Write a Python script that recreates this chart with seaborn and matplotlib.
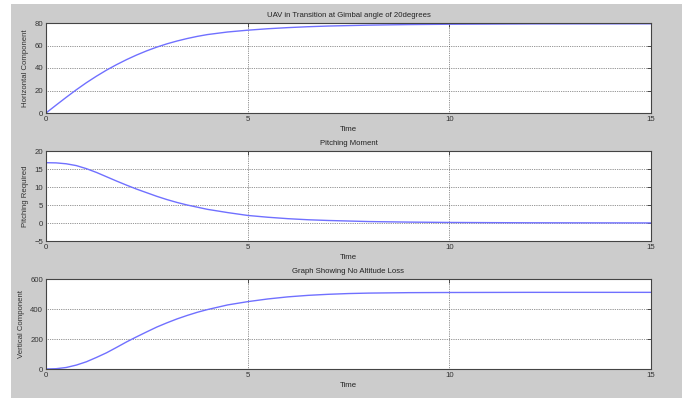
import matplotlib
matplotlib.use("Agg")
import matplotlib.pyplot as plt
import seaborn as sns
import pandas as pd
from matplotlib.patches import Rectangle

# Sampled simulation output (time in seconds)
t_horiz = [0, 0.25, 0.5, 0.75, 1, 1.25, 1.5, 1.75, 2, 2.25, 2.5, 2.75, 3, 3.25, 3.5, 3.75,
           4, 4.5, 5, 5.5, 6, 6.5, 7, 8, 9, 10, 12, 15]
horizontal = [0, 7.0, 13.9, 20.6, 26.9, 32.7, 38.1, 43.0, 47.5, 51.6, 55.3, 58.6, 61.5,
              64.0, 66.2, 68.1, 69.7, 72.0, 73.6, 74.9, 75.9, 76.7, 77.3, 78.1, 78.6,
              78.9, 79.2, 79.3]

t_pitch = [0, 0.25, 0.5, 0.75, 1, 1.25, 1.5, 1.75, 2, 2.25, 2.5, 2.75, 3, 3.25, 3.5, 3.75,
           4, 4.5, 5, 5.5, 6, 6.5, 7, 7.5, 8, 9, 10, 11, 12, 15]
pitching = [16.75, 16.7, 16.45, 15.95, 15.1, 14.05, 12.85, 11.65, 10.5, 9.4, 8.4, 7.4,
            6.5, 5.7, 5.0, 4.4, 3.8, 2.9, 2.1, 1.6, 1.2, 0.9, 0.7, 0.55, 0.4, 0.25, 0.15,
            0.1, 0.06, 0.02]

t_vert = [0, 0.25, 0.5, 0.75, 1, 1.25, 1.5, 1.75, 2, 2.25, 2.5, 2.75, 3, 3.25, 3.5, 3.75,
          4, 4.5, 5, 5.5, 6, 6.5, 7, 7.5, 8, 9, 10, 12, 15]
vertical = [0, 2, 10, 26, 48, 77, 108, 144, 181, 215, 248, 280, 308, 334, 357, 378,
            396, 427, 449, 467, 481, 491, 498, 503, 506, 509, 510, 511, 511]

x_ticks = [0, 5, 10, 15]
panels = [
    dict(t=t_horiz, y=horizontal, title="UAV in Transition at Gimbal angle of 20degrees",
         ylabel="Horizontal Component", ylim=(0, 80), yticks=[0, 20, 40, 60, 80]),
    dict(t=t_pitch, y=pitching, title="Pitching Moment",
         ylabel="Pitching Required", ylim=(-5, 20), yticks=[-5, 0, 5, 10, 15, 20]),
    dict(t=t_vert, y=vertical, title="Graph Showing No Altitude Loss",
         ylabel="Vertical Component", ylim=(0, 600), yticks=[0, 200, 400, 600]),
]

sns.set_style("white")
plt.rcParams["font.family"] = ["Liberation Sans", "DejaVu Sans"]

W, H = 686, 398
fig = plt.figure(figsize=(W / 100, H / 100), dpi=100, facecolor="white")
# grey figure window area, kept behind the axes
fig.patches.append(Rectangle((11 / W, 0), (682 - 11) / W, (H - 4) / H,
                             transform=fig.transFigure, facecolor="#cccccc",
                             edgecolor="none", zorder=-10))

left, right = 46, 651
rows = [(23, 113), (151, 241), (279, 369)]
fs = 5.6
for p, (top, bot) in zip(panels, rows):
    ax = fig.add_axes([left / W, 1 - bot / H, (right - left) / W, (bot - top) / H])
    ax.set_zorder(1)
    ax.set_facecolor("white")
    df = pd.DataFrame({"Time": p["t"], "val": p["y"]})
    sns.lineplot(data=df, x="Time", y="val", ax=ax, color="#7070ff", linewidth=1.0)
    ax.set_xlim(0, 15)
    ax.set_ylim(*p["ylim"])
    ax.set_xticks(x_ticks)
    ax.set_yticks(p["yticks"])
    ax.grid(True, color="#333333", linestyle=(0, (1, 1.6)), linewidth=0.5)
    ax.tick_params(direction="in", top=True, right=True, length=3, width=0.6,
                   labelsize=fs, colors="#333333", pad=2)
    for s in ax.spines.values():
        s.set_color("#444444")
        s.set_linewidth(0.8)
    ax.set_title(p["title"], fontsize=fs, color="#222222", pad=4)
    ax.set_xlabel("Time", fontsize=fs, color="#222222", labelpad=2)
    ax.set_ylabel(p["ylabel"], fontsize=fs, color="#333333", labelpad=4)

fig.savefig("out.png", dpi=100, facecolor="white")
